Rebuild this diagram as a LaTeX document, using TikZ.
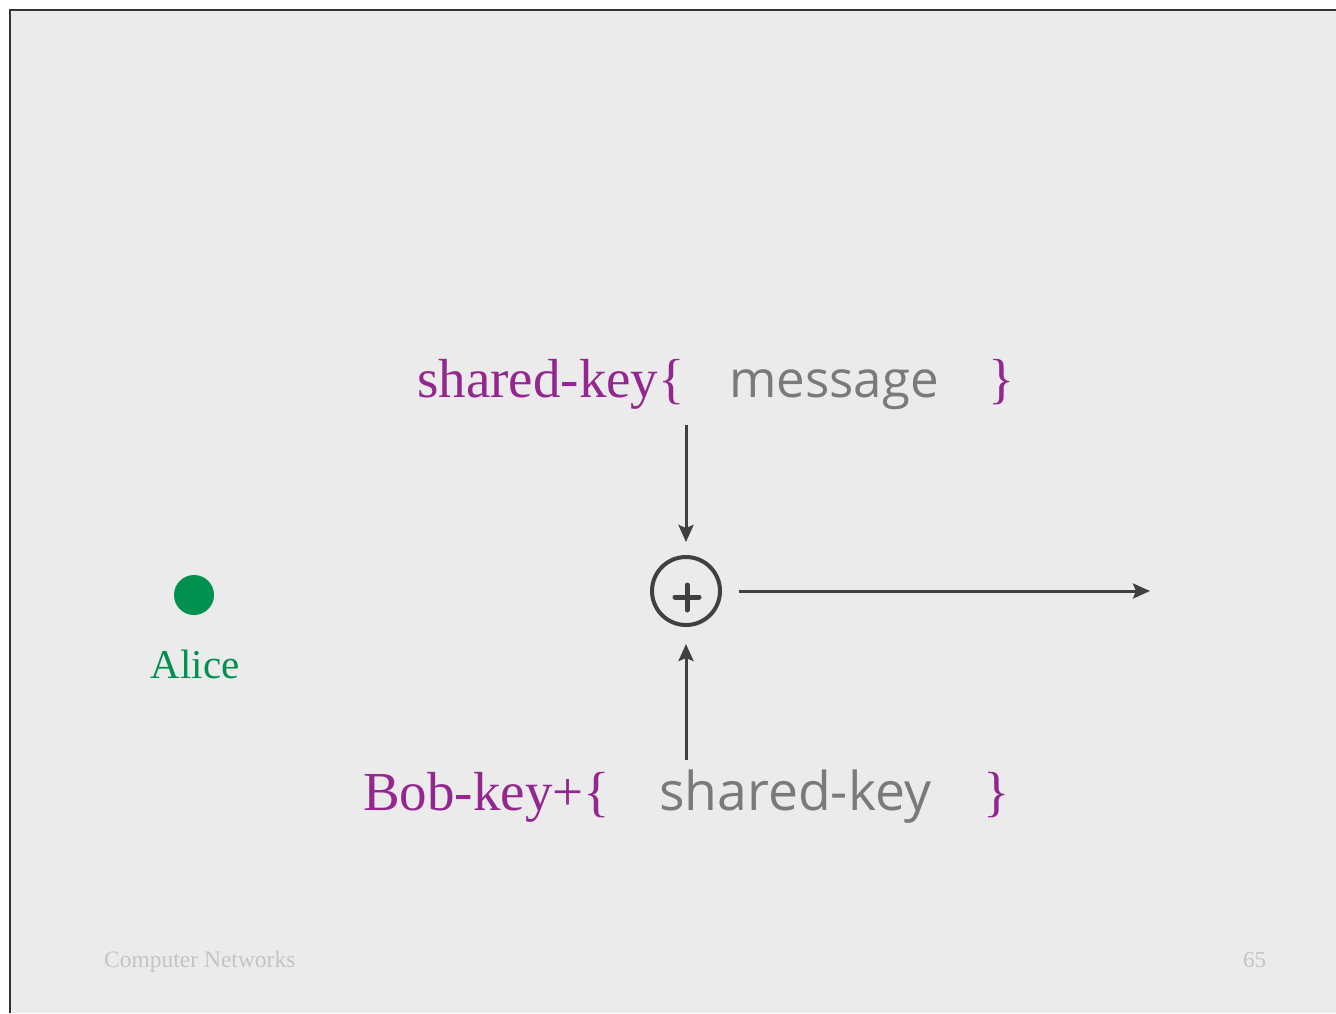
\documentclass[tikz,border=0pt]{standalone}
\usepackage{fontspec}
\setmainfont{Liberation Serif}
\newfontfamily\handfont{Open Sans}
\usetikzlibrary{arrows.meta}
\definecolor{bgc}{HTML}{EBEBEB}
\definecolor{purp}{HTML}{93278F}
\definecolor{grn}{HTML}{00904F}
\definecolor{gtxt}{HTML}{7A7A7A}
\definecolor{dk}{HTML}{404040}
\definecolor{foot}{HTML}{C4C4C4}
\definecolor{framec}{HTML}{333333}
\tikzset{
  txt/.style={inner sep=0pt, anchor=base west},
  keytxt/.style={txt, text=purp, font=\fontsize{55}{60}\selectfont},
  msgtxt/.style={txt, text=gtxt, font=\handfont\fontsize{51}{56}\selectfont},
  conn/.style={draw=dk, line width=3pt, -{Stealth[length=17pt,width=15pt,inset=3pt]}},
  xorc/.style={circle, draw=dk, line width=4pt, minimum size=68pt, inner sep=0pt},
}
\begin{document}
\begin{tikzpicture}[x=1pt,y=-1pt]
\useasboundingbox (0,0) rectangle (1336,1013);
\fill[white] (0,0) rectangle (1336,1013);
\fill[bgc] (10,10) rectangle (1336,1013);
\draw[framec, line width=1.5pt] (1336,10) -- (10,10) -- (10,1013);

% top expression
\node[keytxt] (k1) at (417,397) {shared-key\{};
\node[msgtxt] (m1) at (729,397) {message};
\node[keytxt] (c1) at (988,397) {\}};

% bottom expression
\node[keytxt] (k2) at (363,810) {Bob-key+\{};
\node[msgtxt, font=\handfont\fontsize{53.5}{58}\selectfont] (m2) at (659,810) {shared-key};
\node[keytxt] (c2) at (983,810) {\}};

% xor
\node[xorc] (xor) at (686,591) {};
\draw[dk, line width=5pt, line cap=round] (675,597) -- (699,597) (687,585) -- (687,610);

\coordinate (top) at (686,425);
\coordinate (bot) at (686,760);
\coordinate (out) at (1150,591);
\draw[conn, shorten >=13pt] (top) -- (xor.north);
\draw[conn, shorten >=17pt] (bot) -- (xor.south);
\draw[conn, shorten <=17pt] (xor.east) -- (out);

% Alice
\node[circle, fill=grn, minimum size=40pt, inner sep=0pt] (alice) at (194,595) {};
\node[inner sep=0pt, anchor=base, text=grn, font=\fontsize{41}{46}\selectfont] (alicet) at (195,678) {Alice};

% footer
\node[txt, text=foot, font=\fontsize{23.5}{26}\selectfont] (ft) at (104,967) {Computer Networks};
\node[txt, text=foot, font=\fontsize{23}{26}\selectfont] (pg) at (1243,967) {65};
\end{tikzpicture}
\end{document}
